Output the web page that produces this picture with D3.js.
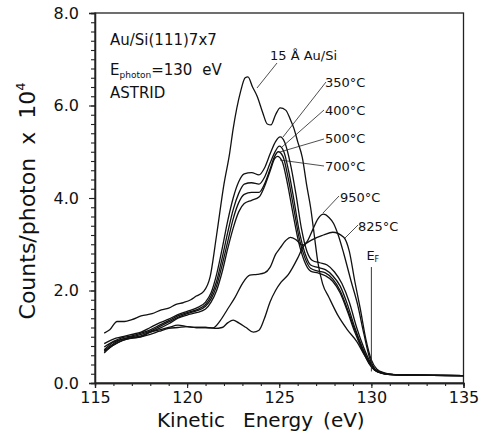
<!DOCTYPE html>
<html><head><meta charset="utf-8">
<script src="https://cdn.jsdelivr.net/npm/d3@7"></script>
<style>
html,body{margin:0;padding:0;background:#fff;}
svg text{font-family:"DejaVu Sans",sans-serif;fill:#111;}
</style></head>
<body><svg id="c" width="481" height="432"></svg>
<script>
// ---- data (energy eV, counts/photon x 1e4) ----
const s15A = [[115.5,1.08],[115.8,1.15],[116.2,1.33],[116.6,1.33],[117.0,1.37],[117.5,1.45],[118.1,1.5],[118.6,1.58],[119.0,1.62],[119.4,1.7],[119.8,1.74],[120.2,1.8],[120.5,1.88],[120.9,1.98],[121.25,2.3],[121.6,3.2],[122.0,4.3],[122.3,4.95],[122.5,5.5],[122.9,6.3],[123.15,6.6],[123.3,6.62],[123.55,6.4],[123.8,6.2],[124.1,5.85],[124.35,5.6],[124.55,5.58],[124.8,5.8],[125.05,5.95],[125.35,5.9],[125.6,5.7],[125.8,5.5],[126.0,5.22],[126.25,4.88],[126.5,4.25],[126.7,3.8],[126.9,3.2],[127.1,2.6],[127.35,2.15],[127.7,1.85],[128.2,1.45],[128.7,1.15],[129.2,0.9],[129.6,0.62],[129.9,0.42],[130.2,0.28],[130.6,0.21],[131.2,0.18],[132.0,0.17],[135.0,0.16]];
const s350 = [[115.5,0.85],[116.0,0.95],[116.5,1.0],[117.0,1.05],[117.5,1.1],[118.0,1.2],[118.5,1.3],[119.0,1.38],[119.5,1.48],[120.0,1.55],[120.5,1.62],[121.0,1.75],[121.3,1.95],[121.6,2.35],[121.9,2.9],[122.2,3.5],[122.5,4.0],[122.8,4.35],[123.1,4.52],[123.5,4.55],[123.9,4.5],[124.2,4.65],[124.5,4.95],[124.8,5.22],[125.05,5.32],[125.3,5.2],[125.6,4.75],[125.9,4.1],[126.2,3.35],[126.5,2.85],[126.8,2.65],[127.2,2.6],[127.6,2.55],[128.0,2.4],[128.4,2.15],[128.8,1.75],[129.2,1.2],[129.6,0.75],[129.9,0.48],[130.2,0.3],[130.6,0.22],[131.2,0.18],[132.5,0.17],[135.0,0.16]];
const s400 = [[115.5,0.78],[116.0,0.9],[116.5,0.98],[117.0,1.02],[117.5,1.08],[118.0,1.15],[118.5,1.25],[119.0,1.35],[119.5,1.45],[120.0,1.52],[120.5,1.58],[121.0,1.7],[121.3,1.88],[121.6,2.2],[121.9,2.7],[122.2,3.25],[122.5,3.75],[122.8,4.1],[123.1,4.3],[123.5,4.33],[123.9,4.3],[124.2,4.45],[124.5,4.75],[124.8,5.02],[125.0,5.12],[125.25,5.0],[125.5,4.6],[125.8,3.95],[126.1,3.25],[126.4,2.8],[126.7,2.55],[127.1,2.5],[127.5,2.45],[127.9,2.32],[128.3,2.1],[128.7,1.7],[129.1,1.2],[129.5,0.78],[129.9,0.45],[130.2,0.28],[130.6,0.21],[131.2,0.18],[135.0,0.16]];
const s500 = [[115.5,0.72],[116.0,0.88],[116.5,0.95],[117.0,1.0],[117.5,1.05],[118.0,1.12],[118.5,1.22],[119.0,1.32],[119.5,1.42],[120.0,1.5],[120.5,1.56],[121.0,1.66],[121.3,1.82],[121.6,2.1],[121.9,2.55],[122.2,3.05],[122.5,3.55],[122.8,3.9],[123.1,4.08],[123.5,4.12],[123.9,4.12],[124.2,4.3],[124.5,4.62],[124.75,4.9],[124.95,5.0],[125.2,4.9],[125.5,4.4],[125.8,3.75],[126.1,3.1],[126.4,2.7],[126.7,2.48],[127.1,2.42],[127.5,2.38],[127.9,2.25],[128.3,2.0],[128.7,1.6],[129.1,1.15],[129.5,0.75],[129.9,0.42],[130.2,0.27],[130.6,0.21],[131.2,0.18],[135.0,0.16]];
const s700 = [[115.5,0.65],[116.0,0.82],[116.5,0.92],[117.0,0.98],[117.5,1.02],[118.0,1.1],[118.5,1.18],[119.0,1.28],[119.5,1.4],[120.0,1.47],[120.5,1.52],[121.0,1.6],[121.3,1.75],[121.6,2.0],[121.9,2.4],[122.2,2.9],[122.5,3.35],[122.8,3.7],[123.1,3.88],[123.5,3.95],[123.9,4.02],[124.2,4.25],[124.5,4.58],[124.75,4.85],[124.9,4.9],[125.15,4.8],[125.45,4.3],[125.75,3.65],[126.05,3.05],[126.35,2.65],[126.7,2.42],[127.1,2.38],[127.5,2.32],[127.9,2.2],[128.3,1.95],[128.7,1.55],[129.1,1.1],[129.5,0.72],[129.9,0.4],[130.2,0.27],[130.6,0.21],[131.2,0.18],[135.0,0.16]];
const s825 = [[115.5,0.7],[116.0,0.85],[116.5,0.95],[117.0,0.97],[117.5,1.0],[118.0,1.05],[118.5,1.12],[119.0,1.18],[119.5,1.2],[120.0,1.22],[120.5,1.2],[121.0,1.2],[121.5,1.18],[121.9,1.2],[122.2,1.3],[122.5,1.36],[122.8,1.3],[123.2,1.2],[123.6,1.1],[123.9,1.14],[124.2,1.4],[124.5,1.75],[124.8,2.0],[125.1,2.18],[125.5,2.35],[126.0,2.7],[126.3,2.95],[126.8,3.1],[127.4,3.2],[127.9,3.26],[128.5,3.15],[128.8,2.85],[129.1,2.2],[129.4,1.6],[129.7,0.95],[130.0,0.5],[130.3,0.3],[130.7,0.22],[131.3,0.18],[135.0,0.16]];
const s950 = [[115.5,0.68],[116.0,0.82],[116.5,0.92],[117.0,0.97],[117.5,1.0],[118.0,1.1],[118.5,1.15],[119.0,1.2],[119.5,1.25],[120.0,1.22],[120.5,1.2],[121.0,1.2],[121.4,1.19],[121.8,1.35],[122.2,1.6],[122.6,1.85],[123.0,2.15],[123.4,2.33],[123.8,2.35],[124.2,2.38],[124.5,2.5],[124.8,2.78],[125.05,2.92],[125.35,3.08],[125.6,3.15],[125.9,3.1],[126.25,2.98],[126.5,3.05],[126.8,3.3],[127.1,3.55],[127.4,3.65],[127.7,3.58],[127.95,3.45],[128.2,3.2],[128.5,2.8],[128.9,2.2],[129.25,1.7],[129.6,1.05],[129.9,0.55],[130.2,0.3],[130.6,0.22],[131.2,0.18],[135.0,0.16]];
const seriesList = [s15A, s350, s400, s500, s700, s825, s950];

const xTicks = [115,120,125,130,135];
const yTicks = [0,2,4,6,8];
const eFermi = 130;

// ---- layout ----
const svg = d3.select("#c");
const x = d3.scaleLinear().domain([115,135]).range([95,463.5]);
const y = d3.scaleLinear().domain([0,8]).range([383,13]);

// frame
svg.append("rect").attr("x",x(115)).attr("y",y(8)).attr("width",x(135)-x(115)).attr("height",y(0)-y(8))
  .attr("fill","none").attr("stroke","#222").attr("stroke-width",1.3);

// x axis
const xAx = svg.append("g").attr("transform",`translate(0,${y(0)})`)
  .call(d3.axisBottom(x).tickValues(xTicks).tickFormat(d3.format("d")).tickSize(5).tickPadding(4));
const xMin = svg.append("g").attr("transform",`translate(0,${y(0)})`)
  .call(d3.axisBottom(x).tickValues(d3.range(115,136,1)).tickFormat("").tickSize(3));
// y axis
const yAx = svg.append("g").attr("transform",`translate(${x(115)},0)`)
  .call(d3.axisLeft(y).tickValues(yTicks).tickFormat(d3.format(".1f")).tickSize(6).tickPadding(10));
const yMin = svg.append("g").attr("transform",`translate(${x(115)},0)`)
  .call(d3.axisLeft(y).tickValues(d3.range(0,41).map(i=>i*0.2)).tickFormat("").tickSize(4));
[xAx,xMin,yAx,yMin].forEach(g=>{
  g.select(".domain").attr("stroke","#222").attr("stroke-width",1.3);
  g.selectAll(".tick line").attr("stroke","#222").attr("stroke-width",1.1);
  g.selectAll(".tick text").attr("font-family","DejaVu Sans").attr("font-size",16).attr("fill","#111");
});

// curves
const line = d3.line().x(d=>x(d[0])).y(d=>y(d[1])).curve(d3.curveMonotoneX);
svg.append("g").selectAll("path").data(seriesList).join("path")
  .attr("d",line).attr("fill","none").attr("stroke","#111").attr("stroke-width",1.3);

// axis titles
svg.append("text").attr("x",157).attr("y",427).attr("font-size",20)
  .html('<tspan>Kinetic</tspan><tspan dx="18">Energy</tspan><tspan dx="10">(eV)</tspan>');
const yt = svg.append("text").attr("transform","translate(35,201) rotate(-90)").attr("text-anchor","middle").attr("font-size",22);
yt.append("tspan").text("Counts/photon");
yt.append("tspan").attr("dx",13).text("x");
yt.append("tspan").attr("dx",13).text("10");
yt.append("tspan").attr("font-size",13).attr("dy",-10).text("4");

// annotation block
svg.append("text").attr("x",110).attr("y",45).attr("font-size",15).text("Au/Si(111)7x7");
const ep = svg.append("text").attr("x",110).attr("y",75).attr("font-size",15);
ep.append("tspan").text("E");
ep.append("tspan").attr("font-size",9).attr("dy",3).text("photon");
ep.append("tspan").attr("dy",-3).text("=130");
ep.append("tspan").attr("dx",10).text("eV");
svg.append("text").attr("x",110).attr("y",98).attr("font-size",15).text("ASTRID");

// curve labels with leaders
const labels = [
  {t:"15  Å  Au/Si", tx:270, ty:60, l:[[277,63],[257,88]]},
  {t:"350°C", tx:325, ty:87, l:[[326,82],[283,137]]},
  {t:"400°C", tx:325, ty:115, l:[[324,110],[282,147]]},
  {t:"500°C", tx:325, ty:143, l:[[324,139],[280,152]]},
  {t:"700°C", tx:325, ty:171, l:[[324,166],[280,160]]},
  {t:"950°C", tx:340, ty:202, l:[[339,196],[323,213]]},
  {t:"825°C", tx:358, ty:231, l:[[358,225],[345,238]]}
];
const lg = svg.append("g");
labels.forEach(d=>{
  lg.append("text").attr("x",d.tx).attr("y",d.ty).attr("font-size",13).text(d.t);
  lg.append("line").attr("x1",d.l[0][0]).attr("y1",d.l[0][1]).attr("x2",d.l[1][0]).attr("y2",d.l[1][1])
    .attr("stroke","#222").attr("stroke-width",0.8);
});
// Fermi level marker
const ef = svg.append("text").attr("x",x(eFermi)-5).attr("y",260).attr("font-size",13);
ef.append("tspan").text("E");
ef.append("tspan").attr("font-size",8).attr("dy",2).text("F");
svg.append("line").attr("x1",x(eFermi)).attr("x2",x(eFermi)).attr("y1",267).attr("y2",y(0.25))
  .attr("stroke","#222").attr("stroke-width",0.9);
</script></body></html>
